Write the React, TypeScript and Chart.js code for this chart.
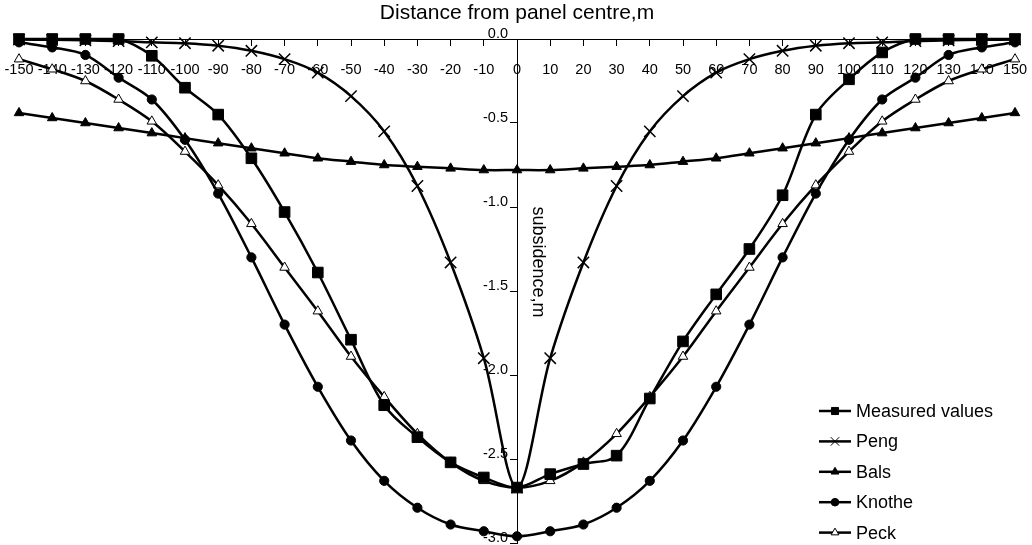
import React, { useEffect, useRef } from "react";
import { Chart, registerables } from "chart.js";
import { drawPoint } from "chart.js/helpers";

Chart.register(...registerables);

const FONT = "Arial, 'Liberation Sans', Helvetica, sans-serif";

// Distance from panel centre (m)
const distance = [
  -150, -140, -130, -120, -110, -100, -90, -80, -70, -60, -50, -40, -30, -20, -10, 0,
  10, 20, 30, 40, 50, 60, 70, 80, 90, 100, 110, 120, 130, 140, 150,
];

// Subsidence (m)
const measuredValues = [
  0, 0, 0, 0, -0.1, -0.29, -0.45, -0.71, -1.03, -1.39, -1.79, -2.18, -2.37, -2.52, -2.61, -2.67,
  -2.59, -2.53, -2.48, -2.14, -1.8, -1.52, -1.25, -0.93, -0.45, -0.24, -0.08, 0, 0, 0, 0,
];
const pengValues = [
  -0.003, -0.005, -0.008, -0.012, -0.02, -0.025, -0.04, -0.07, -0.12, -0.2, -0.34, -0.55, -0.875, -1.33, -1.9, -2.67,
  -1.9, -1.33, -0.875, -0.55, -0.34, -0.2, -0.12, -0.07, -0.04, -0.025, -0.02, -0.012, -0.008, -0.005, -0.003,
];
const balsValues = [
  -0.44, -0.47, -0.5, -0.53, -0.56, -0.59, -0.62, -0.65, -0.68, -0.71, -0.73, -0.75, -0.76, -0.77, -0.78, -0.78,
  -0.78, -0.77, -0.76, -0.75, -0.73, -0.71, -0.68, -0.65, -0.62, -0.59, -0.56, -0.53, -0.5, -0.47, -0.44,
];
const knotheValues = [
  -0.02, -0.05, -0.095, -0.23, -0.36, -0.6, -0.92, -1.3, -1.7, -2.07, -2.39, -2.63, -2.79, -2.89, -2.93, -2.96,
  -2.93, -2.89, -2.79, -2.63, -2.39, -2.07, -1.7, -1.3, -0.92, -0.6, -0.36, -0.23, -0.095, -0.05, -0.02,
];
const peckValues = [
  -0.12, -0.18, -0.25, -0.36, -0.49, -0.67, -0.87, -1.1, -1.36, -1.62, -1.89, -2.13, -2.35, -2.52, -2.63, -2.67,
  -2.63, -2.52, -2.35, -2.13, -1.89, -1.62, -1.36, -1.1, -0.87, -0.67, -0.49, -0.36, -0.25, -0.18, -0.12,
];

const seriesNames = ["Measured values", "Peng", "Bals", "Knothe", "Peck"];
const seriesValues = [measuredValues, pengValues, balsValues, knotheValues, peckValues];

const chartTitle = "Distance from panel centre,m";
const yAxisTitle = "subsidence,m";

const markerStyles = [
  { pointStyle: "rect", radius: 7.5, fill: "#000", legendRadius: 5 },
  { pointStyle: "crossRot", radius: 8, fill: "#000", legendRadius: 6 },
  { pointStyle: "triangle", radius: 5.5, fill: "#000", legendRadius: 4.5 },
  { pointStyle: "circle", radius: 4.6, fill: "#000", legendRadius: 3.8 },
  { pointStyle: "triangle", radius: 5.5, fill: "#fff", legendRadius: 4.5 },
];

const overlayPlugin = {
  id: "overlay",
  afterDraw(chart: any) {
    const ctx = chart.ctx as CanvasRenderingContext2D;
    const xs = chart.scales.x;
    const x0 = xs.getPixelForValue(0);

    // rotated y-axis title
    ctx.save();
    ctx.translate(x0 + 21, 262);
    ctx.rotate(Math.PI / 2);
    ctx.font = `18px ${FONT}`;
    ctx.fillStyle = "#000";
    ctx.textAlign = "center";
    ctx.textBaseline = "middle";
    ctx.fillText(yAxisTitle, 0, 0);
    ctx.restore();

    // legend
    ctx.save();
    const lx1 = 819;
    const lx2 = 851;
    const top = 411;
    const step = 30.4;
    seriesNames.forEach((name, i) => {
      const y = top + i * step;
      const st = markerStyles[i];
      ctx.strokeStyle = "#000";
      ctx.lineWidth = 2.5;
      ctx.beginPath();
      ctx.moveTo(lx1, y);
      ctx.lineTo(lx2, y);
      ctx.stroke();
      ctx.fillStyle = st.fill;
      ctx.strokeStyle = "#000";
      ctx.lineWidth = 1;
      drawPoint(
        ctx,
        { pointStyle: st.pointStyle as any, radius: st.legendRadius, rotation: 0, borderWidth: 1 } as any,
        (lx1 + lx2) / 2,
        y
      );
      ctx.fillStyle = "#000";
      ctx.font = `18px ${FONT}`;
      ctx.textAlign = "left";
      ctx.textBaseline = "middle";
      ctx.fillText(name, 856, y + 1);
    });
    ctx.restore();
  },
};

export default function App() {
  const canvasRef = useRef<HTMLCanvasElement | null>(null);

  useEffect(() => {
    if (!canvasRef.current) return;
    Chart.defaults.font.family = FONT;
    Chart.defaults.color = "#000";

    const datasets = seriesNames.map((name, i) => ({
      label: name,
      data: distance.map((d, j) => ({ x: d, y: seriesValues[i][j] })),
      borderColor: "#000",
      borderWidth: 2.5,
      tension: 0.33,
      pointStyle: markerStyles[i].pointStyle as any,
      pointRadius: markerStyles[i].radius,
      pointHoverRadius: markerStyles[i].radius,
      pointBackgroundColor: markerStyles[i].fill,
      pointBorderColor: "#000",
      pointBorderWidth: i === 1 ? 1.5 : 1,
      fill: false,
      clip: false as any,
    }));

    const zeroPad = (scale: any) => {
      scale.paddingLeft = 0;
      scale.paddingRight = 0;
      scale.paddingTop = 0;
      scale.paddingBottom = 0;
    };

    const chart = new Chart(canvasRef.current, {
      type: "line",
      data: { datasets },
      options: {
        responsive: false,
        animation: false,
        events: [],
        layout: { autoPadding: false, padding: { left: 19, right: 17, top: 0, bottom: 2 } },
        plugins: {
          legend: { display: false },
          tooltip: { enabled: false },
          title: {
            display: true,
            text: chartTitle,
            color: "#000",
            font: { size: 21, weight: "normal", family: FONT },
            padding: { top: 1, bottom: 12.8 },
          },
        },
        scales: {
          x: {
            type: "linear",
            position: { y: 0 } as any,
            min: -150,
            max: 150,
            afterFit: zeroPad,
            border: { display: true, color: "#000", width: 1 },
            grid: {
              display: true,
              drawOnChartArea: false,
              drawTicks: true,
              tickLength: 6,
              color: "#000",
              lineWidth: 1,
            },
            ticks: {
              stepSize: 10,
              autoSkip: false,
              maxRotation: 0,
              minRotation: 0,
              padding: 16,
              color: "#000",
              font: { size: 14.5, family: FONT },
              callback: (v: any) => String(v),
            },
          },
          y: {
            type: "linear",
            position: "center",
            min: -3,
            max: 0,
            afterFit: zeroPad,
            border: { display: true, color: "#000", width: 1 },
            grid: {
              display: true,
              drawOnChartArea: false,
              drawTicks: true,
              tickLength: 7,
              color: "#000",
              lineWidth: 1,
            },
            ticks: {
              stepSize: 0.5,
              padding: 2,
              labelOffset: -5,
              color: "#000",
              font: { size: 14.5, family: FONT, lineHeight: 0.2 },
              callback: (v: any) => Number(v).toFixed(1),
            },
          },
        },
      },
      plugins: [overlayPlugin],
    });

    return () => chart.destroy();
  }, []);

  return (
    <div style={{ position: "fixed", left: 0, top: 0, width: 1032, height: 545, background: "#fff" }}>
      <canvas ref={canvasRef} width={1032} height={545} style={{ display: "block" }} />
    </div>
  );
}
